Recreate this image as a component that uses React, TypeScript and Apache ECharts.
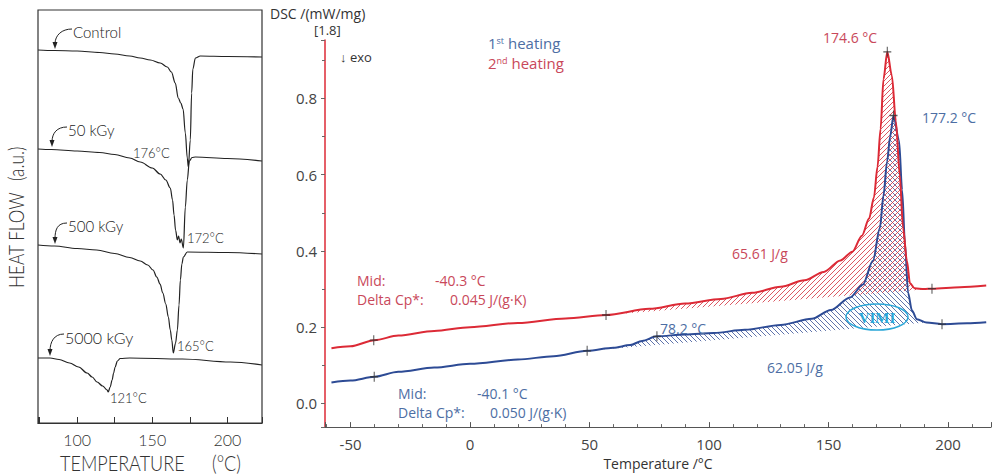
import React, { useEffect, useRef } from 'react';
import * as echarts from 'echarts';

// ---------- Left panel (irradiated samples, arbitrary units) ----------
const controlCurve = [
  [74, 37.3], [85, 37.25], [100, 37.2], [115, 37.05], [125, 36.9], [135, 36.7], [142, 36.5],
  [148.7, 36.3], [155.3, 36.0], [160, 35.6], [162.7, 35.1], [165.3, 34.0], [167.3, 32.5],
  [169, 32.0], [170.5, 31.4], [172, 29.0], [173.3, 26.5], [174, 25.6], [175.3, 28.3],
  [176.2, 33.0], [177, 35.4], [178.7, 36.5], [182, 36.7], [200, 36.65], [223, 36.6],
];
const kGy50Curve = [
  [74, 27.4], [83, 27.35], [100, 27.2], [115, 27.05], [125, 26.85], [135, 26.5], [142, 26.1],
  [150, 25.5], [155.3, 24.9], [159, 24.3], [162, 23.5], [163.5, 22.3], [164.5, 20.8],
  [165.5, 19.3], [166.7, 18.3], [167.5, 18.7], [168.5, 18.0], [169.3, 18.4], [170.7, 17.5],
  [172, 21.6], [173.3, 24.3], [174.7, 26.2], [176.5, 26.55], [178.7, 26.6], [200, 26.45],
  [223, 26.2],
];
const kGy500Curve = [
  [74, 17.8], [85, 17.7], [100, 17.45], [113, 17.3], [125, 16.95], [135, 16.55], [142, 16.2],
  [147, 15.8], [150.5, 15.3], [153, 14.6], [155.2, 13.9], [157, 13.0], [159, 11.9],
  [160.7, 10.6], [162, 9.3], [163, 8.3], [164, 7.0], [165.5, 8.0], [166.7, 9.3], [167.8, 11.8],
  [168.7, 14.3], [169.7, 15.9], [170.7, 16.6], [173.3, 17.1], [200, 17.05], [223, 16.9],
];
const kGy5000Curve = [
  [74, 6.5], [82, 6.5], [88, 6.35], [95, 6.0], [101, 5.6], [106.7, 5.0], [110, 4.6],
  [113.3, 4.1], [117, 3.7], [120, 3.3], [120.7, 3.1], [122, 3.6], [123.3, 4.3], [124.3, 5.0],
  [125.3, 5.6], [126.8, 6.2], [128.7, 6.45], [135, 6.5], [170, 6.4], [202, 6.1], [223, 5.8],
];
const leftTickLabels = [100, 150, 200];

// ---------- Right panel (DSC, mW/mg) ----------
const heating2 = [
  [-58, 0.145], [-50, 0.150], [-40, 0.166], [-30, 0.178], [-15, 0.190], [0, 0.200], [20, 0.211],
  [40, 0.223], [56.9, 0.232], [75, 0.248], [90, 0.262], [105, 0.274], [118, 0.290], [130, 0.306],
  [140, 0.323], [148, 0.345], [155, 0.375], [160, 0.398], [164, 0.440], [167, 0.485],
  [169, 0.540], [170.5, 0.620], [171.8, 0.720], [173, 0.850], [174.6, 0.922], [176.5, 0.860],
  [178.2, 0.740], [179.8, 0.600], [181.2, 0.460], [182.8, 0.374], [184.1, 0.315], [186, 0.302],
  [190, 0.300], [193.3, 0.301], [205, 0.305], [216, 0.309],
];
const heating1 = [
  [-58, 0.055], [-50, 0.060], [-40, 0.070], [-30, 0.083], [-15, 0.094], [0, 0.104], [20, 0.115],
  [35, 0.124], [49, 0.138], [60, 0.146], [67, 0.153], [72, 0.164], [78.2, 0.176], [90, 0.181],
  [102, 0.185], [115, 0.193], [130, 0.206], [143, 0.222], [151, 0.245], [159, 0.278],
  [164.4, 0.312], [168.6, 0.374], [171.5, 0.460], [173, 0.545], [174.5, 0.634], [175.8, 0.700],
  [177.2, 0.755], [179.5, 0.690], [180.8, 0.560], [182, 0.420], [183.3, 0.290], [184.9, 0.244],
  [187, 0.221], [191, 0.212], [197.5, 0.208], [208, 0.210], [216, 0.213],
];
const heating2Marks = [[-40.3, 0.166], [56.9, 0.232], [174.6, 0.922], [193.3, 0.301]];
const heating1Marks = [[-40.1, 0.070], [49, 0.138], [78.2, 0.176], [177.2, 0.755], [197.5, 0.208]];
const heating2PeakRange = [56.9, 193.3];
const heating1PeakRange = [49, 191];

const RED = '#dc2a36';
const BLUE = '#2d4b95';
const RED_TXT = '#c9485a';
const BLUE_TXT = '#4d6ea4';
const SANS = '"Open Sans", "Noto Sans", sans-serif';
const LSANS = 'Lato, "Liberation Sans", Arial, sans-serif';

function makeHatch(color: string, dir: number, size = 5) {
  const c = document.createElement('canvas');
  c.width = size;
  c.height = size;
  const ctx = c.getContext('2d') as CanvasRenderingContext2D;
  ctx.strokeStyle = color;
  ctx.lineWidth = 1;
  ctx.beginPath();
  if (dir > 0) {
    ctx.moveTo(0, size); ctx.lineTo(size, 0);
    ctx.moveTo(-1, 1); ctx.lineTo(1, -1);
    ctx.moveTo(size - 1, size + 1); ctx.lineTo(size + 1, size - 1);
  } else {
    ctx.moveTo(0, 0); ctx.lineTo(size, size);
    ctx.moveTo(-1, size - 1); ctx.lineTo(1, size + 1);
    ctx.moveTo(size - 1, -1); ctx.lineTo(size + 1, 1);
  }
  ctx.stroke();
  return c;
}

function txt(x: number, y: number, text: string, fill: string, fontSize: number, family: string, extra: any = {}) {
  return {
    type: 'text', x, y, z: 100,
    style: { text, fill, fontSize, fontFamily: family, verticalAlign: 'middle', ...extra },
  };
}

function arrow(sx: number, sy: number, tx: number, ty: number) {
  return [
    {
      type: 'bezierCurve', z: 100,
      shape: { x1: sx, y1: sy, cpx1: sx - 10, cpy1: sy, cpx2: tx, cpy2: ty - 14, x2: tx, y2: ty - 5 },
      style: { stroke: '#222', lineWidth: 1, fill: null },
    },
    {
      type: 'polygon', z: 100,
      shape: { points: [[tx - 2.5, ty - 7], [tx + 2.5, ty - 7], [tx, ty]] },
      style: { fill: '#222' },
    },
  ];
}

export default function App() {
  const ref = useRef<HTMLDivElement>(null);
  useEffect(() => {
    if (!ref.current) return;
    const chart = echarts.init(ref.current, undefined, { renderer: 'svg' });
    const redPattern = { image: makeHatch('rgba(214,60,72,0.85)', 1), repeat: 'repeat' };
    const bluePattern = { image: makeHatch('rgba(55,80,150,0.8)', -1), repeat: 'repeat' };

    const hatchSeries = (curve: number[][], range: number[], pattern: any, z: number) => ({
      type: 'custom', xAxisIndex: 1, yAxisIndex: 1, z,
      data: [[range[0], curve[0][1]]],
      renderItem: (params: any, api: any) => {
        const pts = curve
          .filter((p) => p[0] >= range[0] - 0.01 && p[0] <= range[1] + 0.01)
          .map((p) => api.coord(p));
        return { type: 'polygon', shape: { points: pts }, style: { fill: pattern, stroke: null } };
      },
    });

    const leftLine = (data: number[][]) => ({
      type: 'line', xAxisIndex: 0, yAxisIndex: 0, data, showSymbol: false, smooth: 0.35,
      smoothMonotone: 'x', lineStyle: { color: '#222', width: 1.2 }, z: 5,
    });

    const plusSymbol = 'path://M5,0L5,10M0,5L10,5';
    const light = { fontWeight: 300 };

    const graphic: any[] = [
      {
        type: 'rect', z: 50,
        shape: { x: 38, y: 10, width: 224, height: 413 },
        style: { fill: null, stroke: '#333', lineWidth: 1.2 },
      },
      // left panel labels
      txt(73, 32, 'Control', '#222', 15, LSANS, light),
      txt(68, 130, '50 kGy', '#222', 15, LSANS, light),
      txt(133, 153, '176°C', '#222', 13, LSANS, light),
      txt(68, 226, '500 kGy', '#222', 15, LSANS, light),
      txt(187, 238, '172°C', '#222', 13, LSANS, light),
      txt(65, 337, '5000 kGy', '#222', 16, LSANS, light),
      txt(177, 346, '165°C', '#222', 13, LSANS, light),
      txt(110, 398, '121°C', '#222', 13, LSANS, light),
      {
        type: 'text', x: 16, y: 288, rotation: Math.PI / 2, scaleX: 0.82, z: 100,
        style: { text: 'HEAT FLOW', fill: '#333', fontSize: 21, fontWeight: 300, fontFamily: LSANS, align: 'left', verticalAlign: 'middle' },
      },
      {
        type: 'text', x: 16, y: 181, rotation: Math.PI / 2, scaleX: 0.82, z: 100,
        style: { text: '(a.u.)', fill: '#333', fontSize: 21, fontWeight: 300, fontFamily: LSANS, align: 'left', verticalAlign: 'middle' },
      },
      {
        type: 'text', x: 60, y: 462, scaleX: 0.82, z: 100,
        style: { text: 'TEMPERATURE', fill: '#333', fontSize: 22, fontWeight: 300, fontFamily: LSANS, align: 'left', verticalAlign: 'middle' },
      },
      {
        type: 'text', x: 212, y: 462, scaleX: 0.82, z: 100,
        style: { text: '(°C)', fill: '#333', fontSize: 22, fontWeight: 300, fontFamily: LSANS, align: 'left', verticalAlign: 'middle' },
      },
      ...arrow(72, 29, 55, 49),
      ...arrow(67, 127, 52, 147),
      ...arrow(67, 223, 55, 244),
      ...arrow(64, 334, 50, 356),
      // right panel labels
      txt(270, 13, 'DSC /(mW/mg)', '#333', 14, SANS),
      txt(314, 30, '[1.8]', '#333', 13, SANS),
      txt(340, 57, '↓ exo', '#333', 13, SANS),
      {
        type: 'text', x: 488, y: 43, z: 100,
        style: {
          text: '{a|1}{s|st}{a| heating}', verticalAlign: 'middle', fontFamily: SANS,
          rich: {
            a: { fontSize: 15, fill: BLUE_TXT, fontFamily: SANS },
            s: { fontSize: 9, fill: BLUE_TXT, fontFamily: SANS, verticalAlign: 'top' },
          },
        },
      },
      {
        type: 'text', x: 488, y: 63, z: 100,
        style: {
          text: '{a|2}{s|nd}{a| heating}', verticalAlign: 'middle', fontFamily: SANS,
          rich: {
            a: { fontSize: 15, fill: RED_TXT, fontFamily: SANS },
            s: { fontSize: 9, fill: RED_TXT, fontFamily: SANS, verticalAlign: 'top' },
          },
        },
      },
      txt(823, 37, '174.6 °C', RED_TXT, 14, SANS),
      txt(922, 117, '177.2 °C', BLUE_TXT, 14, SANS),
      txt(732, 253, '65.61 J/g', RED_TXT, 14, SANS),
      txt(660, 328, '78.2 °C', BLUE_TXT, 14, SANS),
      txt(767, 367, '62.05 J/g', BLUE_TXT, 14, SANS),
      txt(357, 280, 'Mid:', RED_TXT, 14, SANS),
      txt(435, 280, '-40.3 °C', RED_TXT, 14, SANS),
      txt(357, 299, 'Delta Cp*:', RED_TXT, 14, SANS),
      txt(450, 299, '0.045 J/(g·K)', RED_TXT, 14, SANS),
      txt(398, 393, 'Mid:', BLUE_TXT, 14, SANS),
      txt(477, 393, '-40.1 °C', BLUE_TXT, 14, SANS),
      txt(398, 412, 'Delta Cp*:', BLUE_TXT, 14, SANS),
      txt(490, 412, '0.050 J/(g·K)', BLUE_TXT, 14, SANS),
      {
        type: 'ellipse', z: 100,
        shape: { cx: 877, cy: 317, rx: 31, ry: 13 },
        style: { fill: null, stroke: '#2aa7d8', lineWidth: 1.5 },
      },
      {
        type: 'text', x: 877, y: 318, z: 101,
        style: { text: 'VIMI', fill: '#2aa7d8', fontSize: 15, fontWeight: 'bold', fontFamily: '"Liberation Serif", serif', align: 'center', verticalAlign: 'middle' },
      },
    ];

    chart.setOption({
      animation: false,
      backgroundColor: '#fff',
      grid: [
        { left: 38, top: 10, width: 224, height: 413 },
        { left: 325, top: 40, width: 666, height: 391 },
      ],
      xAxis: [
        {
          gridIndex: 0, type: 'value', min: 74, max: 223, splitNumber: 3,
          axisLine: { show: true, onZero: false, lineStyle: { color: '#333', width: 1.2 } },
          axisTick: { show: true, inside: true, length: 6, lineStyle: { color: '#333' } },
          minorTick: { show: true, splitNumber: 2, length: 6, lineStyle: { color: '#333' } },
          splitLine: { show: false },
          axisLabel: {
            fontSize: 16, fontWeight: 300, color: '#333', fontFamily: LSANS, margin: 8,
            showMinLabel: false, showMaxLabel: false,
            formatter: (v: number) => (leftTickLabels.indexOf(v) >= 0 ? String(v) : ''),
          },
        },
        {
          gridIndex: 1, type: 'value', min: -60.7, max: 218, splitNumber: 6,
          name: 'Temperature /°C', nameLocation: 'middle', nameGap: 27,
          nameTextStyle: { fontSize: 14, color: '#333', fontFamily: SANS },
          axisLine: { show: true, onZero: false, lineStyle: { color: '#555', width: 1.2 } },
          axisTick: { show: true, inside: true, length: 5, lineStyle: { color: '#555' } },
          minorTick: { show: true, splitNumber: 5, length: 3, lineStyle: { color: '#666' } },
          splitLine: { show: false },
          axisLabel: { fontSize: 15, color: '#444', fontFamily: SANS, margin: 9, showMinLabel: false, showMaxLabel: false },
        },
      ],
      yAxis: [
        { gridIndex: 0, type: 'value', min: 0, max: 41.3, show: false },
        {
          gridIndex: 1, type: 'value', min: -0.062, max: 0.953, splitNumber: 5,
          axisLine: { show: true, onZero: false, lineStyle: { color: RED, width: 1.5 } },
          axisTick: { show: true, length: 4, lineStyle: { color: '#666' } },
          minorTick: { show: true, splitNumber: 2, length: 3, lineStyle: { color: '#666' } },
          splitLine: { show: false },
          axisLabel: {
            fontSize: 15, color: '#444', fontFamily: SANS, margin: 8,
            showMinLabel: false, showMaxLabel: false,
            formatter: (v: number) => v.toFixed(1),
          },
        },
      ],
      series: [
        leftLine(controlCurve),
        leftLine(kGy50Curve),
        leftLine(kGy500Curve),
        leftLine(kGy5000Curve),
        hatchSeries(heating1, heating1PeakRange, bluePattern, 2),
        hatchSeries(heating2, heating2PeakRange, redPattern, 3),
        {
          type: 'line', xAxisIndex: 1, yAxisIndex: 1, data: heating1, showSymbol: false, smooth: 0.3,
          smoothMonotone: 'x', lineStyle: { color: BLUE, width: 2 }, z: 6,
        },
        {
          type: 'line', xAxisIndex: 1, yAxisIndex: 1, data: heating2, showSymbol: false, smooth: 0.3,
          smoothMonotone: 'x', lineStyle: { color: RED, width: 2 }, z: 7,
        },
        {
          type: 'scatter', xAxisIndex: 1, yAxisIndex: 1, data: [...heating1Marks, ...heating2Marks],
          symbol: plusSymbol, symbolSize: [8, 10], z: 10,
          itemStyle: { color: 'none', borderColor: '#333', borderWidth: 1.2 },
        },
      ],
      graphic,
    });
    return () => chart.dispose();
  }, []);
  return <div ref={ref} style={{ position: 'absolute', left: 0, top: 0, width: 1000, height: 475 }} />;
}
